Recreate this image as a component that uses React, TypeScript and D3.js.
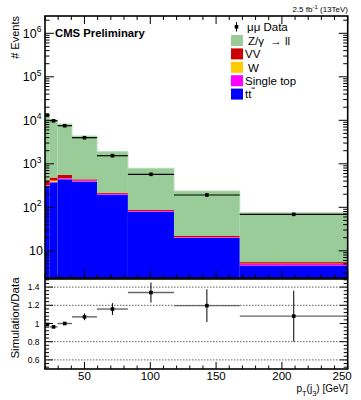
import React from "react";
import * as d3 from "d3";

// Variable-width pT(j3) bins [GeV]
const binEdges = [20, 23.5, 29.5, 40.5, 59.5, 83, 118, 168, 250];

// Stacked simulation, events per bin (bottom to top)
const ttbar = [309, 371, 440, 388, 195, 79, 19.7, 4.6];
const singleTop = [10, 12, 24, 21, 8, 3, 0.8, 0.37];
const wJets = [5, 30, 3, 2, 1, 0.5, 0.2, 0.1];
const diboson = [90, 70, 86, 29, 13, 4.5, 1.2, 0.43];
const drellYan = [12786, 9667, 7667, 3910, 1683, 701, 215, 69.5];

// Observed dimuon events
const dataCounts = [13200, 9770, 7510, 3980, 1535, 574, 192, 69];

// Simulation / Data
const ratioValues = [0.99, 0.963, 1.0, 1.073, 1.159, 1.34, 1.196, 1.081];
const ratioErrors = [0.012, 0.012, 0.01, 0.037, 0.065, 0.11, 0.18, 0.28];

const xTicks = [50, 100, 150, 200, 250];
const ratioTicks = [0.6, 0.8, 1, 1.2, 1.4];
const ratioGrid = [0.6, 0.8, 1.2, 1.4];
const logDecades = [1, 2, 3, 4, 5, 6];

const processes = [
  { key: "ttbar", label: "tt", values: ttbar, color: "#0000ff" },
  { key: "singleTop", label: "Single top", values: singleTop, color: "#ff00ff" },
  { key: "wJets", label: "W", values: wJets, color: "#ffcc00" },
  { key: "diboson", label: "VV", values: diboson, color: "#cc0000" },
  { key: "drellYan", label: "Z/γ  → ll", values: drellYan, color: "#99cc99" },
];

const FONT = "'Liberation Sans', Arial, Helvetica, sans-serif";

export default function App() {
  const W = 361;
  const H = 400;
  const left = 45;
  const right = 347.7;
  const topY = 16;
  const upperBottom = 278;
  const lowerTop = 278;
  const lowerBottom = 369;

  const x = d3.scaleLinear().domain([20, 250]).range([left, right]);
  const yMin = 2.37;
  const y = d3.scaleLog().domain([yMin, 2.5e6]).range([upperBottom, topY]);
  const r = d3.scaleLinear().domain([0.5, 1.5]).range([lowerBottom, lowerTop]);

  const rows = binEdges.slice(0, -1).map((lo, i) => {
    const row: any = { lo, hi: binEdges[i + 1] };
    processes.forEach((p) => (row[p.key] = p.values[i]));
    return row;
  });
  const stack = d3.stack().keys(processes.map((p) => p.key))(rows as any);

  const yc = (v: number) => y(Math.max(v, yMin));

  // tick positions
  const xMinor = d3.range(20, 251, 10);
  const logMinor: number[] = [];
  for (let e = 0; e <= 6; e++) {
    for (let m = 1; m <= 9; m++) {
      const v = m * Math.pow(10, e);
      if (v > yMin && v < 2.5e6) logMinor.push(v);
    }
  }
  const ratioMinor = d3.range(0.52, 1.5, 0.04);

  return (
    <svg
      width={W}
      height={H}
      style={{ position: "absolute", left: 0, top: 0, background: "#fff" }}
      fontFamily={FONT}
    >
      <rect x={0} y={0} width={W} height={H} fill="#fff" />

      {/* stacked histograms */}
      {stack.map((layer, li) => (
        <g key={processes[li].key}>
          {layer.map((seg, i) => {
            const row = rows[i];
            const y0 = yc(seg[0]);
            const y1 = yc(seg[1]);
            return (
              <rect
                key={i}
                x={x(row.lo)}
                width={x(row.hi) - x(row.lo)}
                y={y1}
                height={Math.max(0, y0 - y1)}
                fill={processes[li].color}
              />
            );
          })}
        </g>
      ))}
      {/* light outline on top of the Z/gamma fill */}
      <path
        d={
          d3
            .line<any>()
            .x((d) => d[0])
            .y((d) => d[1])
            .curve(d3.curveStepAfter)(
            rows
              .map((row, i) => [x(row.lo), yc(stack[4][i][1])])
              .concat([[x(250), yc(stack[4][rows.length - 1][1])]])
          ) || ""
        }
        fill="none"
        stroke="#b5dcb5"
        strokeWidth={1}
      />

      {/* data points */}
      {dataCounts.map((v, i) => {
        const lo = binEdges[i];
        const hi = binEdges[i + 1];
        const cx = x((lo + hi) / 2);
        return (
          <g key={i}>
            <line x1={x(lo)} x2={x(hi)} y1={y(v)} y2={y(v)} stroke="#000" strokeWidth={1.2} />
            <rect x={cx - 1.8} y={y(v) - 1.8} width={3.6} height={3.6} fill="#000" />
          </g>
        );
      })}

      {/* frame ticks */}
      <g stroke="#000" strokeWidth={1}>
        {xMinor.map((v) => {
          const major = v % 50 === 0;
          const len = major ? 8 : 4;
          return (
            <g key={v}>
              <line x1={x(v)} x2={x(v)} y1={topY} y2={topY + len} />
              <line x1={x(v)} x2={x(v)} y1={upperBottom} y2={upperBottom - len} />
              <line x1={x(v)} x2={x(v)} y1={lowerBottom} y2={lowerBottom - (major ? 7 : 3.5)} />
            </g>
          );
        })}
        {logMinor.map((v, i) => {
          const major = logDecades.some((e) => Math.abs(v - Math.pow(10, e)) < 1e-6);
          const len = major ? 9 : 4.5;
          return (
            <g key={i}>
              <line x1={left} x2={left + len} y1={y(v)} y2={y(v)} />
              <line x1={right} x2={right - len} y1={y(v)} y2={y(v)} />
            </g>
          );
        })}
        {ratioMinor.map((v, i) => {
          const major = ratioTicks.some((t) => Math.abs(t - v) < 1e-6);
          const len = major ? 8 : 4;
          return (
            <g key={i}>
              <line x1={left} x2={left + len} y1={r(v)} y2={r(v)} />
              <line x1={right} x2={right - len} y1={r(v)} y2={r(v)} />
            </g>
          );
        })}
      </g>

      {/* frames */}
      <rect
        x={left}
        y={topY}
        width={right - left}
        height={upperBottom - topY}
        fill="none"
        stroke="#000"
        strokeWidth={1.6}
      />
      <rect
        x={left}
        y={lowerTop + 1}
        width={right - left}
        height={lowerBottom - lowerTop - 1}
        fill="none"
        stroke="#000"
        strokeWidth={1.6}
      />

      {/* y tick labels (log) */}
      {logDecades.map((e) => (
        <text
          key={e}
          x={e === 1 ? 43 : 41.5}
          y={y(Math.pow(10, e)) + 4.5}
          fontSize={12.5}
          textAnchor="end"
          fill="#000"
        >
          10
          {e > 1 && (
            <tspan fontSize={8.5} dy={-5.5}>
              {String(e)}
            </tspan>
          )}
        </text>
      ))}

      {/* ratio grid */}
      {ratioGrid.map((v) => (
        <line
          key={v}
          x1={left}
          x2={right}
          y1={r(v)}
          y2={r(v)}
          stroke="#333"
          strokeWidth={0.8}
          strokeDasharray="1.5,1.5"
        />
      ))}

      {/* ratio points */}
      {ratioValues.map((v, i) => {
        const lo = binEdges[i];
        const hi = binEdges[i + 1];
        const cx = x((lo + hi) / 2);
        return (
          <g key={i}>
            <line x1={x(lo)} x2={x(hi)} y1={r(v)} y2={r(v)} stroke="#666" strokeWidth={1.4} />
            <line
              x1={cx}
              x2={cx}
              y1={r(v - ratioErrors[i])}
              y2={r(v + ratioErrors[i])}
              stroke="#000"
              strokeWidth={1}
            />
            <rect x={cx - 1.8} y={r(v) - 1.8} width={3.6} height={3.6} fill="#000" />
          </g>
        );
      })}

      {/* ratio tick labels */}
      {ratioTicks.map((v) => (
        <text key={v} x={39.5} y={r(v) + 3} fontSize={8.5} textAnchor="end" fill="#000">
          {String(v)}
        </text>
      ))}

      {/* x tick labels */}
      {xTicks.map((v, i) => (
        <text
          key={v}
          x={i === xTicks.length - 1 ? x(v) + 4 : x(v)}
          y={380}
          fontSize={11.5}
          textAnchor={i === xTicks.length - 1 ? "end" : "middle"}
          fill="#000"
        >
          {String(v)}
        </text>
      ))}

      {/* axis titles */}
      <text
        transform={`translate(18.5,${topY}) rotate(-90)`}
        fontSize={11}
        textAnchor="end"
        fill="#000"
      >
        # Events
      </text>
      <text
        transform={`translate(19,318) rotate(-90)`}
        fontSize={11.5}
        textAnchor="middle"
        fill="#000"
      >
        Simulation/Data
      </text>
      <text x={348} y={392} fontSize={10} textAnchor="end" fill="#000">
        p
        <tspan fontSize={7.5} dy={3.5}>T</tspan>
        <tspan dy={-3.5}>(j</tspan>
        <tspan fontSize={7.5} dy={3.5}>3</tspan>
        <tspan dy={-3.5}>) [GeV]</tspan>
      </text>

      {/* labels */}
      <text x={55} y={37} fontSize={11.3} fontWeight="bold" fill="#000">
        CMS Preliminary
      </text>
      <text x={348} y={12} fontSize={8} textAnchor="end" fill="#000">
        2.5 fb
        <tspan fontSize={6} dy={-3}>-1</tspan>
        <tspan dy={3}> (13TeV)</tspan>
      </text>

      {/* legend */}
      <g>
        <line x1={236.5} x2={236.5} y1={22} y2={31.5} stroke="#000" strokeWidth={1} />
        <rect x={234.7} y={25} width={3.6} height={3.6} fill="#000" />
        <text x={247} y={31} fontSize={11.5} fill="#000">
          μμ Data
        </text>
        {[...processes].reverse().map((p, i) => {
          const cy = 40.5 + i * 13.4;
          return (
            <g key={p.key}>
              <rect x={231} y={cy - 5.5} width={12} height={11} fill={p.color} />
              <text
                x={p.key === "wJets" || p.key === "drellYan" ? 248 : 245}
                y={cy + 4.2}
                fontSize={11.5}
                fill="#000"
                style={{ whiteSpace: "pre" }}
              >
                {p.label}
              </text>
              {p.key === "ttbar" && (
                <line x1={251.5} x2={255} y1={cy - 6} y2={cy - 6} stroke="#000" strokeWidth={0.9} />
              )}
            </g>
          );
        })}
      </g>
    </svg>
  );
}
